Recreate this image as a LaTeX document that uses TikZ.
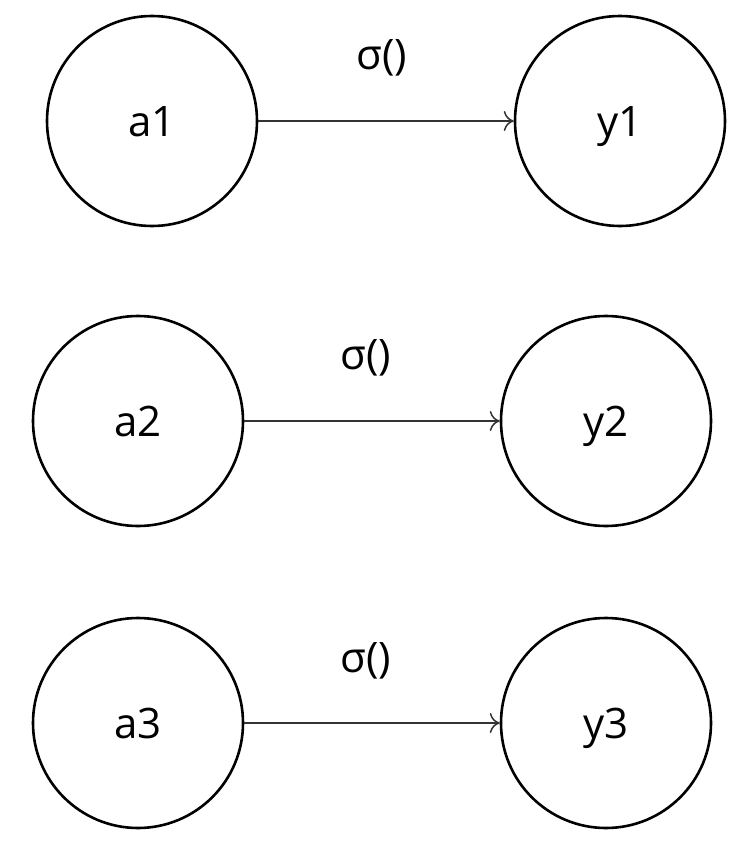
\documentclass[tikz,border=0pt]{standalone}
\usepackage{fontspec}
\setmainfont{Open Sans}
\usetikzlibrary{arrows.meta}
\begin{document}
\begin{tikzpicture}[x=1pt,y=-1pt,
  neuron/.style={draw=black,line width=2.6pt,circle,minimum size=210pt,inner sep=0pt,
    text height=31pt,text depth=0pt,font=\fontsize{42}{50}\selectfont},
  conn/.style={draw=black!80,line width=1.5pt,-{To[length=10pt,width=20pt,line width=1.5pt]}},
  lbl/.style={font=\fontsize{42}{50}\selectfont,inner sep=0pt}]
\useasboundingbox (0,0) rectangle (752,846);
\node[neuron] (a1) at (152,121) {a1};
\node[neuron] (y1) at (620,121) {y1};
\node[neuron] (a2) at (138,421) {a2};
\node[neuron] (y2) at (606,421) {y2};
\node[neuron] (a3) at (138,723) {a3};
\node[neuron] (y3) at (606,723) {y3};
\draw[conn] (a1) -- (y1);
\draw[conn] (a2) -- (y2);
\draw[conn] (a3) -- (y3);
\node[lbl] (s1) at (382,58) {σ()};
\node[lbl] (s2) at (366,358) {σ()};
\node[lbl] (s3) at (366,661) {σ()};
\end{tikzpicture}
\end{document}
